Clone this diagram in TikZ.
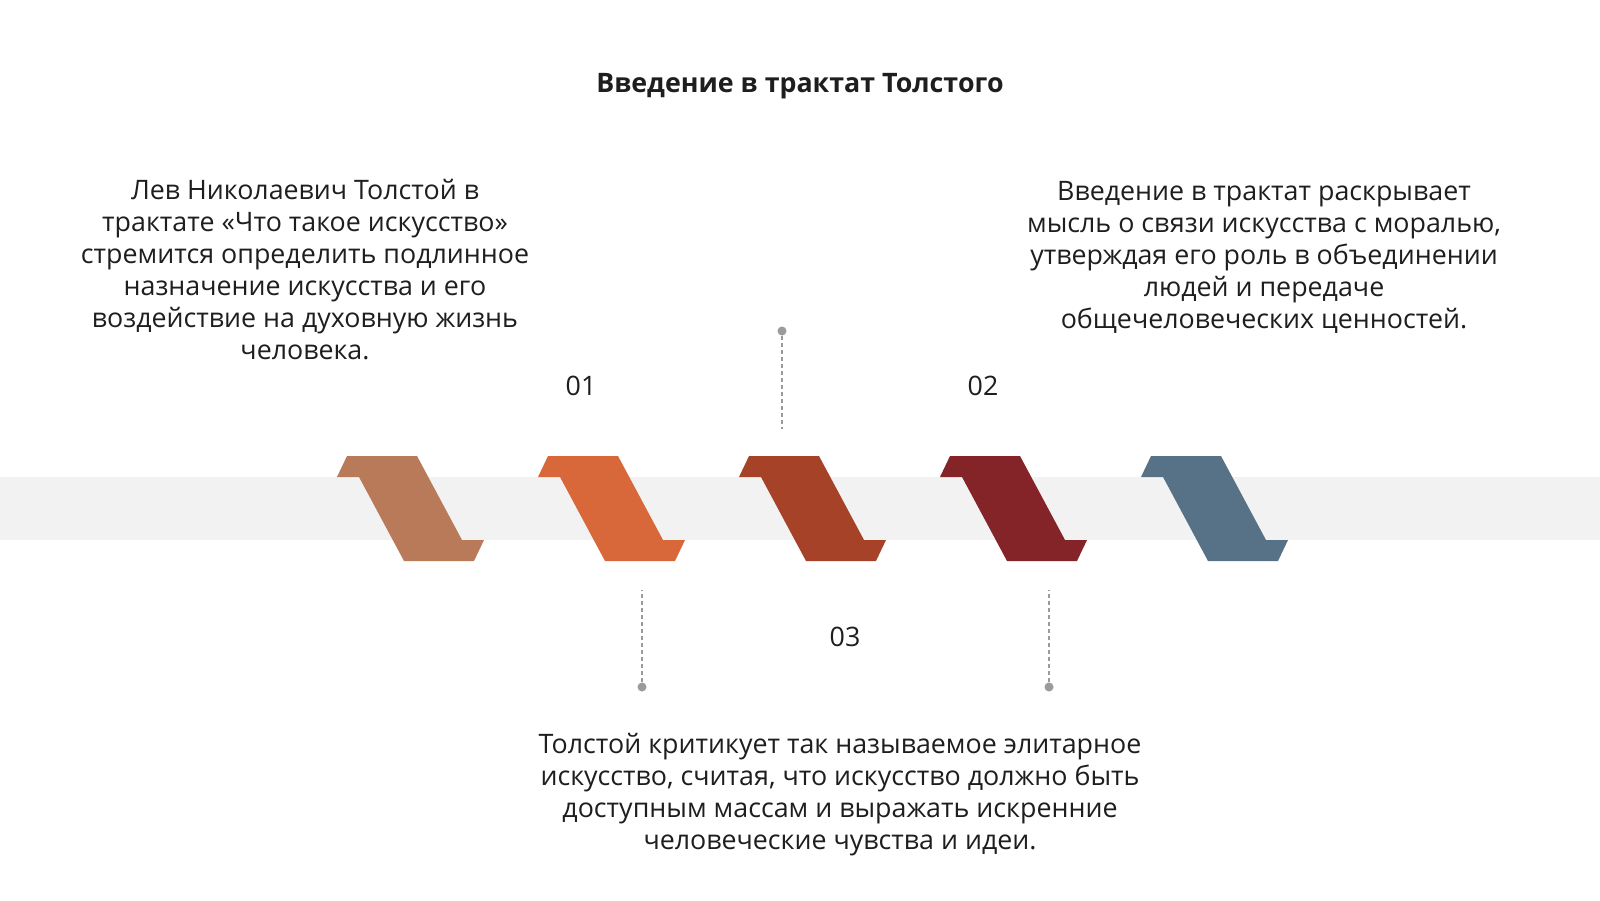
\documentclass[tikz,border=0pt]{standalone}
\usepackage{fontspec}
\setmainfont{Open Sans}
\usetikzlibrary{positioning}
\definecolor{band} {RGB}{242,242,242}
\definecolor{one}  {RGB}{184,122, 88}
\definecolor{two}  {RGB}{216,104, 58}
\definecolor{three}{RGB}{166, 66, 40}
\definecolor{four} {RGB}{133, 36, 40}
\definecolor{five} {RGB}{ 87,113,134}
\definecolor{pingray}{RGB}{155,155,155}
\definecolor{ink}  {RGB}{ 30, 30, 30}

\begin{document}
\begin{tikzpicture}[
  x=0.5pt, y=-0.5pt,
  font={\fontsize{13.4}{16}\selectfont},
  textblock/.style={align=center,text=ink,inner sep=0pt},
  number/.style={text=ink,inner sep=0pt},
  pindot/.style={circle,fill=pingray,inner sep=0pt,minimum size=4.5pt},
  pinline/.style={draw=pingray,line width=0.7pt,dash pattern=on 2pt off 1.5pt},
]

  % Canvas
  \fill[white] (0,0) rectangle (1600,900);
  \useasboundingbox (0,0) rectangle (1600,900);

  % Band behind the ribbons
  \fill[band] (0,477) rectangle (1600,540);

  % Ribbons
  \foreach \x/\c [count=\i] in {337/one,538/two,739/three,940/four,1141/five}{
    \fill[\c] (\x,477) -- ++(10,-21) -- ++(70,0) -- ++(45,84) -- ++(22,0)
      -- ++(-10,21) -- ++(-70,0) -- ++(-45,-84) -- cycle;
  }

  \node[font={\fontsize{13.4}{16}\selectfont\bfseries},text=ink] (title) at (800,86) {Введение в трактат Толстого};

  \node[textblock] (leftText) at (305,270) {Лев Николаевич Толстой в\\трактате «Что такое искусство»\\стремится определить подлинное\\назначение искусства и его\\воздействие на духовную жизнь\\человека.};

  \node[textblock] (rightText) at (1264,257) {Введение в трактат раскрывает\\мысль о связи искусства с моралью,\\утверждая его роль в объединении\\людей и передаче\\общечеловеческих ценностей.};

  \node[textblock] (bottomText) at (840,795) {Толстой критикует так называемое элитарное\\искусство, считая, что искусство должно быть\\доступным массам и выражать искренние\\человеческие чувства и идеи.};

  \node[number] (num1) at (581,386) {01};
  \node[number] (num2) at (983,386) {02};
  \node[number] (num3) at (845,637) {03};

  % Pins
  \node[pindot] (pinTop) at (782,331) {};
  \coordinate (pinTopEnd) at (782,429);
  \node[pindot] (pinLeft) at (642,687) {};
  \coordinate (pinLeftEnd) at (642,590);
  \node[pindot] (pinRight) at (1049,687) {};
  \coordinate (pinRightEnd) at (1049,590);

  \draw[pinline] (pinTop) -- (pinTopEnd);
  \draw[pinline] (pinLeft) -- (pinLeftEnd);
  \draw[pinline] (pinRight) -- (pinRightEnd);

\end{tikzpicture}
\end{document}
